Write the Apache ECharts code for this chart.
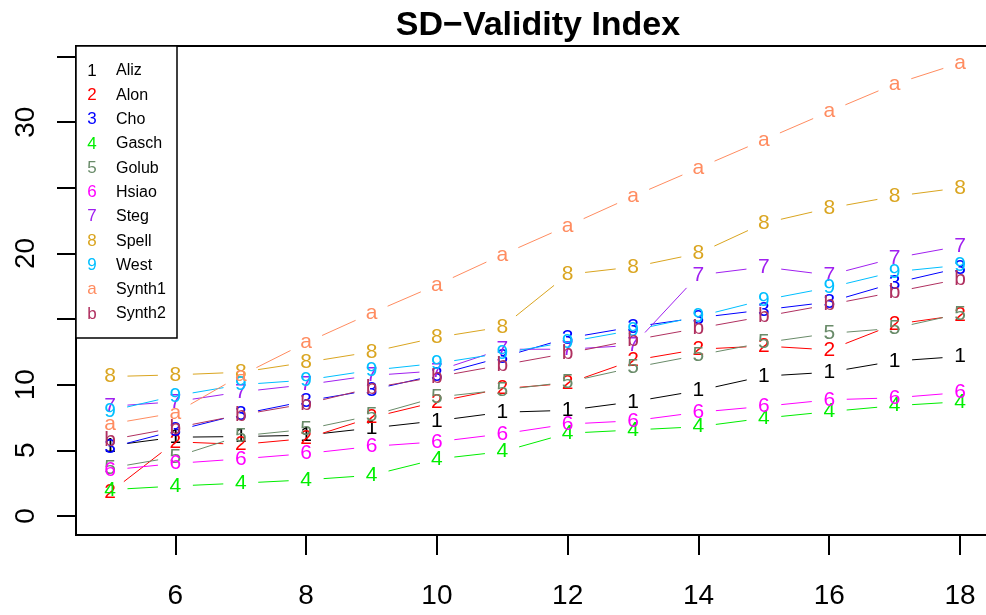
<!DOCTYPE html>
<html>
<head>
<meta charset="utf-8">
<title>SD−Validity Index</title>
<script src="https://cdn.jsdelivr.net/npm/echarts@6/dist/echarts.min.js"></script>
<style>
  html, body { margin: 0; padding: 0; background: #fff; overflow: hidden; }
  #chart { width: 986px; height: 615px; }
</style>
</head>
<body>
<div id="chart"></div>
<script>
// Number of clusters on the x axis
const clusters = [5, 6, 7, 8, 9, 10, 11, 12, 13, 14, 15, 16, 17, 18];

// SD validity index per data set
const aliz   = [5.35, 6.0, 6.05, 6.15, 6.7, 7.25, 7.9, 8.05, 8.7, 9.55, 10.65, 10.95, 11.8, 12.15];
const alon   = [1.8, 5.65, 5.45, 5.9, 7.5, 8.7, 9.7, 10.1, 11.85, 12.7, 12.95, 12.65, 14.6, 15.3];
const cho    = [5.2, 6.5, 7.75, 8.75, 9.6, 10.75, 12.1, 13.55, 14.4, 15.1, 15.7, 16.3, 17.75, 18.9];
const gasch  = [2.0, 2.28, 2.5, 2.75, 3.1, 4.34, 4.9, 6.3, 6.55, 6.8, 7.45, 7.95, 8.4, 8.7];
const golub  = [3.65, 4.5, 6.1, 6.6, 7.65, 9.05, 9.6, 10.2, 11.3, 12.25, 13.2, 13.9, 14.3, 15.4];
const hsiao  = [3.5, 4.0, 4.35, 4.75, 5.3, 5.65, 6.25, 7.0, 7.25, 7.9, 8.35, 8.85, 9.0, 9.4];
const steg   = [8.35, 8.7, 9.45, 10.0, 10.7, 11.05, 12.7, 12.7, 13.0, 18.35, 18.97, 18.35, 19.65, 20.56];
const spell  = [10.62, 10.75, 10.95, 11.7, 12.5, 13.6, 14.4, 18.4, 18.97, 20.0, 22.3, 23.45, 24.35, 25.0];
const west   = [8.0, 9.15, 10.0, 10.35, 11.1, 11.63, 12.4, 13.25, 14.15, 15.2, 16.45, 17.4, 18.6, 19.1];
const synth1 = [7.0, 7.85, 10.7, 13.2, 15.45, 17.6, 19.9, 22.1, 24.35, 26.5, 28.65, 30.8, 32.9, 34.5];
const synth2 = [5.8, 6.72, 7.7, 8.55, 9.75, 10.6, 11.5, 12.4, 13.4, 14.3, 15.2, 16.1, 17.06, 18.05];

const seriesNames   = ['Aliz', 'Alon', 'Cho', 'Gasch', 'Golub', 'Hsiao', 'Steg', 'Spell', 'West', 'Synth1', 'Synth2'];
const seriesValues  = [aliz, alon, cho, gasch, golub, hsiao, steg, spell, west, synth1, synth2];
const seriesSymbols = ['1', '2', '3', '4', '5', '6', '7', '8', '9', 'a', 'b'];
const seriesColors  = ['#000000', '#FF0000', '#0000FF', '#00EE00', '#698B69', '#FF00FF',
                       '#A020F0', '#DAA520', '#00BFFF', '#FF8C60', '#B03060'];

// Axis ticks and labels
const xTicks  = [6, 8, 10, 12, 14, 16, 18];
const yTicks  = [0, 5, 10, 15, 20, 25, 30, 35];
const yLabels = [0, 5, 10, 20, 30];

const FONT = 'Liberation Sans, Arial, sans-serif';
const GAP = 17.5;   // blank space left around each plotting character

function makeSeries(k) {
  const ys = seriesValues[k];
  const color = seriesColors[k];
  const sym = seriesSymbols[k];
  return {
    type: 'custom',
    name: seriesNames[k],
    coordinateSystem: 'cartesian2d',
    clip: false,
    data: clusters.map((x, i) => [x, ys[i]]),
    renderItem(params, api) {
      const i = params.dataIndex;
      const p = api.coord([api.value(0), api.value(1)]);
      const children = [];
      if (i < clusters.length - 1) {
        const q = api.coord([clusters[i + 1], ys[i + 1]]);
        const dx = q[0] - p[0], dy = q[1] - p[1];
        const len = Math.sqrt(dx * dx + dy * dy);
        if (len > 2 * GAP) {
          const ux = dx / len, uy = dy / len;
          children.push({
            type: 'line',
            shape: { x1: p[0] + ux * GAP, y1: p[1] + uy * GAP, x2: q[0] - ux * GAP, y2: q[1] - uy * GAP },
            style: { stroke: color, lineWidth: 1 }
          });
        }
      }
      children.push({
        type: 'text',
        x: p[0], y: p[1],
        style: { text: sym, fill: color, font: '21px ' + FONT, align: 'center', verticalAlign: 'middle' }
      });
      return { type: 'group', children };
    }
  };
}

// Legend box drawn in the upper-left corner of the plot
const legendX = 76, legendY = 46, legendW = 101, legendH = 292;
const legendGraphics = [{
  type: 'rect', z: 100,
  shape: { x: legendX, y: legendY, width: legendW, height: legendH },
  style: { fill: '#fff', stroke: '#000', lineWidth: 1.5 }
}];
seriesNames.forEach((name, i) => {
  const cy = 71 + i * 24.3;
  legendGraphics.push({
    type: 'text', z: 101, x: 92, y: cy,
    style: { text: seriesSymbols[i], fill: seriesColors[i], font: '17px ' + FONT, align: 'center', verticalAlign: 'middle' }
  });
  legendGraphics.push({
    type: 'text', z: 101, x: 116, y: cy,
    style: { text: name, fill: '#000', font: '16px ' + FONT, align: 'left', verticalAlign: 'middle' }
  });
});

const chart = echarts.init(document.getElementById('chart'), null, { renderer: 'canvas' });
chart.setOption({
  animation: false,
  backgroundColor: '#fff',
  title: {
    text: 'SD\u2212Validity Index',
    left: 533, top: 4, textAlign: 'center',
    textStyle: { fontFamily: FONT, fontSize: 34, fontWeight: 'bold', color: '#000' }
  },
  grid: {
    left: 76, top: 46, width: 918, height: 489,
    outerBoundsMode: 'none',
    containLabel: false,
    show: true, borderColor: '#000', borderWidth: 2, backgroundColor: 'transparent'
  },
  xAxis: {
    type: 'value', min: 4.48, max: 18.52,
    splitLine: { show: false },
    axisLine: { show: true, onZero: false, lineStyle: { color: '#000', width: 2 } },
    axisTick: { show: true, customValues: xTicks, length: 20, inside: false, lineStyle: { color: '#000', width: 2 } },
    axisLabel: { customValues: xTicks, margin: 47, color: '#000', fontSize: 28, fontFamily: FONT }
  },
  yAxis: {
    type: 'value', min: -1.45, max: 35.8,
    splitLine: { show: false },
    axisLine: { show: true, onZero: false, lineStyle: { color: '#000', width: 2 } },
    axisTick: { show: true, customValues: yTicks, length: 19, inside: false, lineStyle: { color: '#000', width: 2 } },
    axisLabel: { customValues: yLabels, rotate: 90, margin: 36, color: '#000', fontSize: 28, fontFamily: FONT }
  },
  series: seriesNames.map((_, k) => makeSeries(k)),
  graphic: legendGraphics
});
</script>
</body>
</html>
